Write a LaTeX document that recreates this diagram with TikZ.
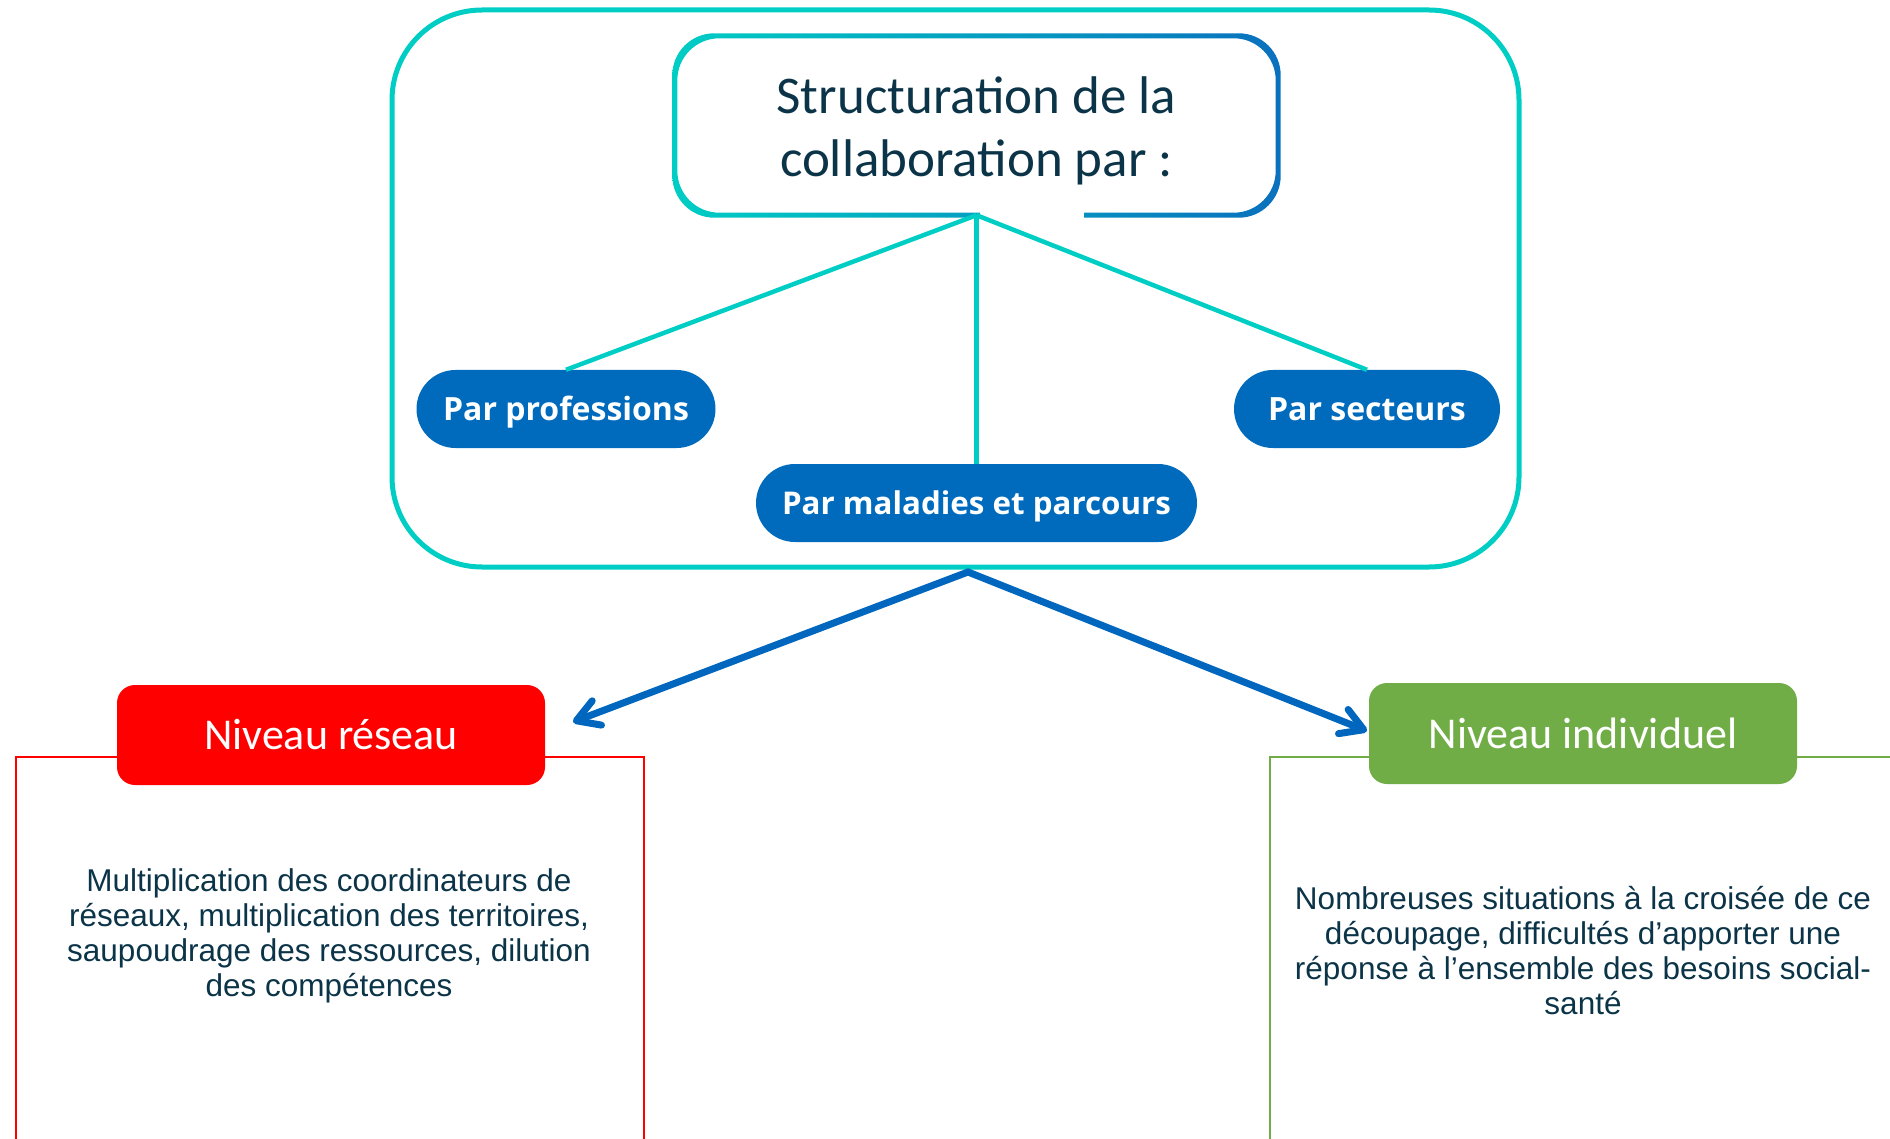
\documentclass[tikz,border=0pt]{standalone}
\usepackage{fontspec}
\setmainfont{Carlito}
\newfontfamily\bodyfont{Liberation Sans}
\newfontfamily\pillfont{Open Sans}
\usetikzlibrary{arrows.meta,calc}
\definecolor{turq}{RGB}{0,206,196}
\definecolor{tblue}{RGB}{10,112,190}
\definecolor{tmid}{RGB}{5,188,200}
\definecolor{darktxt}{RGB}{12,52,72}
\definecolor{pillblue}{RGB}{0,107,189}
\definecolor{arrblue}{RGB}{0,102,190}
\definecolor{redbox}{RGB}{255,0,0}
\definecolor{greenbox}{RGB}{112,173,71}
\begin{document}
\begin{tikzpicture}[x=1pt,y=-1pt,
  pill/.style={fill=pillblue, text=white, rounded corners=39, minimum height=78,
    font=\pillfont\bfseries\fontsize{32}{38}\selectfont, inner sep=0, text height=23, text depth=0},
  conn/.style={draw=turq, line width=4.5},
  arr/.style={draw=arrblue, line width=7, line join=miter},
  hdr/.style={rounded corners=18, text=white, inner sep=0, minimum width=428,
    font=\fontsize{44}{50}\selectfont},
  body/.style={font=\bodyfont\fontsize{31.5}{35}\selectfont, text=darktxt, align=center, inner sep=0},
  outline/.style={line width=1.5}
]
\useasboundingbox (0,0) rectangle (1890,1139);

% outer frame
\node[draw=turq, line width=5, rounded corners=90, minimum width=1127, minimum height=557, inner sep=0] (frame) at (955.5,288.5) {};

% title box
\node[minimum width=603, minimum height=179, inner sep=0] (title) at (976.5,125.5) {};
\begin{scope}[even odd rule, rounded corners=42]
  \clip ($(title.south west)+(-2.5,2.5)$) rectangle ($(title.north east)+(2.5,-2.5)$)
     ($(title.south west)+(2.5,-2.5)$) rectangle ($(title.north east)+(-2.5,2.5)$);
  \shade[left color=turq, middle color=tmid, right color=tblue] ($(title.south west)+(-6,6)$) rectangle ($(title.north east)+(6,-6)$);
\end{scope}
\fill[white] (980,209) rectangle (1084,221);
\node[font=\fontsize{53}{63}\selectfont, text=darktxt, align=center, inner sep=0] (titletxt) at (976.5,131) {Structuration de la\\collaboration par :};

% pills
\node[pill, minimum width=299] (prof) at (566,409) {Par professions};
\node[pill, minimum width=266] (sect) at (1367,409) {Par secteurs};
\node[pill, minimum width=441, font=\pillfont\bfseries\fontsize{31.3}{38}\selectfont] (mal) at (976.5,503) {Par maladies et parcours};

% connectors
\draw[conn] (title.south) -- (prof.north);
\draw[conn] (title.south) -- (mal.north);
\draw[conn] (title.south) -- (sect.north);

% outline boxes
\draw[outline, draw=redbox] (16,1150) -- (16,757) -- (644,757) -- (644,1150);
\draw[outline, draw=greenbox] (1270,1150) -- (1270,757) -- (1900,757);

% headers
\node[hdr, fill=redbox, minimum height=100] (reseau) at (331,735) {Niveau réseau};
\node[hdr, fill=greenbox, minimum height=101] (indiv) at (1583,733.5) {Niveau individuel};

% arrows
\coordinate (split) at (968,572);
\coordinate (tipL) at (573,722);
\coordinate (tipR) at (1367,731);
\draw[arr, {Straight Barb[length=22pt,width=26pt,round]}-{Straight Barb[length=22pt,width=26pt,round]}] (tipL) -- (split) -- (tipR);

% body texts
\node[body] (resText) at (329,936) {Multiplication des coordinateurs de\\réseaux, multiplication des territoires,\\saupoudrage des ressources, dilution\\des compétences};
\node[body] (indText) at (1583,951) {Nombreuses situations à la croisée de ce\\découpage, difficultés d’apporter une\\réponse à l’ensemble des besoins social-\\santé};
\end{tikzpicture}
\end{document}
